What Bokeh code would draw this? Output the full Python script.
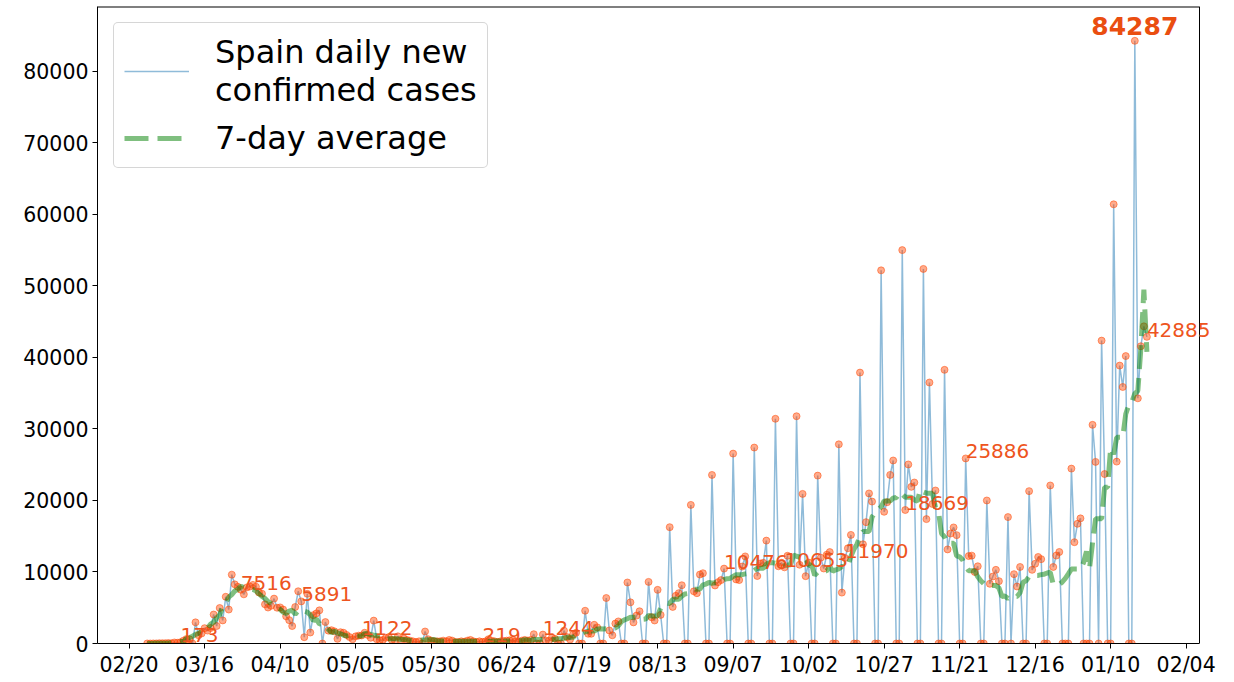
import pandas as pd
from bokeh.plotting import figure
from bokeh.models import (ColumnDataSource, Range1d, FixedTicker, DatetimeTickFormatter,
                          NumeralTickFormatter, LabelSet, Label, Legend, LegendItem)
from bokeh.core.properties import value
from bokeh.embed import file_html
from bokeh.resources import INLINE

# ---------------- DATA ----------------
start_date = "2020-02-26"
feb = [7, 2, 17, 13]
mar = [39, 36, 45, 57, 37, 141, 100, 173, 400, 622, 582, 0, 2955, 1159, 1407, 2144,
       1806, 2162, 4053, 2447, 4964, 3229, 6533, 4749, 9630, 8271, 7933, 7516, 6875,
       7846, 7967]
apr = [8195, 7947, 7134, 6969, 5478, 5029, 5267, 6278, 5002, 5051, 4754, 3804, 3268,
       2442, 5103, 7304, 5891, 887, 6948, 1536, 3968, 4211, 4635, 0, 3000, 1800, 1860,
       1700, 650, 1580]
may = [1500, 1200, 900, 600, 1000, 1100, 1122, 1500, 1200, 800, 3200, 600, 450, 500,
       800, 900, 500, 400, 1000, 500, 700, 500, 400, 300, 200, 300, 0, 1680, 600, 400,
       300]
jun = [300, 300, 400, 300, 500, 400, 200, 200, 300, 250, 400, 500, 300, 200, 300, 219,
       300, 600, 400, 300, 200, 300, 350, 400, 450, 500, 300, 250, 400, 500]
jul = [400, 500, 1300, 0, 0, 1244, 400, 380, 850, 660, 0, 0, 1800, 900, 550, 1250, 1500,
       0, 0, 4581, 1358, 1357, 2615, 2255, 0, 0, 6361, 1829, 1153, 2789, 3092]
aug = [0, 0, 8532, 5760, 2953, 3900, 4507, 0, 0, 8618, 3680, 3220, 7500, 4000, 0, 0,
       16269, 5114, 6671, 7039, 8148, 0, 0, 19382, 7296, 7040, 9650, 9830, 0, 0, 23572]
sep = [8115, 8581, 8866, 10476, 0, 0, 26560, 8964, 8866, 10764, 12183, 0, 0, 27404, 9437,
       11193, 11291, 14389, 0, 0, 31428, 10799, 11289, 10653, 12272, 0, 0, 31785, 11016,
       20922]
oct = [9419, 11325, 0, 0, 23480, 11998, 10491, 12423, 12788, 0, 0, 27856, 7118, 11970,
       13318, 15186, 0, 0, 37889, 13873, 16973, 20986, 19851, 0, 0, 52188, 18418, 19765,
       23580, 25595, 0]
nov = [0, 55019, 18669, 25042, 21908, 22516, 0, 0, 52386, 17395, 36500, 19511, 21400, 0,
       0, 38273, 13159, 15380, 16233, 15156, 0, 0, 25886, 12228, 12289, 10000, 10800, 0,
       0, 20000]
dec = [8350, 9370, 10300, 8720, 0, 0, 17681, 0, 9700, 7970, 10700, 0, 0, 21309, 10300,
       11150, 12100, 11800, 0, 0, 22100, 10700, 12300, 12800, 0, 0, 0, 24462, 14170,
       16740, 17500]
jan = [0, 0, 0, 30579, 25400, 0, 42360, 23700, 0, 0, 61422, 25438, 38869, 35878, 40197,
       0, 0, 84287, 34291, 41576, 44357, 42885]

label_dates = ["2020-03-08", "2020-03-28", "2020-04-17", "2020-05-07", "2020-06-16",
               "2020-07-06", "2020-09-04", "2020-09-24", "2020-10-14", "2020-11-03",
               "2020-11-23", "2021-01-22"]
x_tick_dates = ["2020-02-20", "2020-03-16", "2020-04-10", "2020-05-05", "2020-05-30",
                "2020-06-24", "2020-07-19", "2020-08-13", "2020-09-07", "2020-10-02",
                "2020-10-27", "2020-11-21", "2020-12-16", "2021-01-10", "2021-02-04"]
y_ticks = [0, 10000, 20000, 30000, 40000, 50000, 60000, 70000, 80000]
# ------------------------------------------------------------------------

daily = feb + mar + apr + may + jun + jul + aug + sep + oct + nov + dec + jan
dates = pd.date_range(start_date, periods=len(daily), freq="D")
series = pd.Series(daily, index=dates, dtype=float)
avg = series.rolling(7, center=True, min_periods=1).mean()

src = ColumnDataSource(dict(date=dates, cases=series.values, avg=avg.values))

lab_idx = pd.to_datetime(label_dates)
lab_src = ColumnDataSource(dict(date=lab_idx, val=series.loc[lab_idx].values,
                                txt=[str(int(v)) for v in series.loc[lab_idx].values]))

def ms(ts):
    return pd.Timestamp(ts).value / 1e6

FONT = "DejaVu Sans"
LABEL_COLOR = "#ee5420"

# axes box: visible spines span PLOT_W px; the drawing area extends EXTRA px further right
# so that the last value label is not cut at the right spine (as in the reference)
PLOT_W, EXTRA, PLOT_H = 1102, 27, 637
x_left, x_spine = ms("2020-02-09 13:00"), ms("2021-02-08 10:00")
x_right = x_spine + (x_spine - x_left) * EXTRA / PLOT_W
y_top = 89090

p = figure(frame_width=PLOT_W + EXTRA, frame_height=PLOT_H, x_axis_type="datetime",
           output_backend="svg", toolbar_location=None,
           x_range=Range1d(x_left, x_right), y_range=Range1d(0, y_top),
           min_border_left=97, min_border_right=0, min_border_top=6, min_border_bottom=36)

blue = p.line("date", "cases", source=src, line_color="#1f77b4", line_alpha=0.5, line_width=1.5)
p.scatter("date", "cases", source=src, size=7, fill_color="#ff4500", fill_alpha=0.45,
          line_color="#ff4500", line_alpha=0.5)
green = p.line("date", "avg", source=src, line_color="#008000", line_alpha=0.5,
               line_width=5, line_dash="24 9")

# top and right spines
p.segment(x0=[x_left], y0=[y_top], x1=[x_spine], y1=[y_top], line_color="black", line_width=2)
p.segment(x0=[x_spine], y0=[0], x1=[x_spine], y1=[y_top], line_color="black", line_width=1)

labels = LabelSet(x="date", y="val", text="txt", source=lab_src, text_align="left",
                  text_baseline="alphabetic", text_font=value(FONT), text_font_size="20px",
                  text_color=LABEL_COLOR)
p.add_layout(labels)

imax = int(series.values.argmax())
p.add_layout(Label(x=ms(dates[imax]), y=float(series.values[imax]), text=str(int(series.values[imax])),
                   text_align="center", text_baseline="alphabetic", y_offset=15,
                   text_font=FONT, text_font_size="25px", text_font_style="bold",
                   text_color="#ea4e10"))

legend = Legend(items=[LegendItem(label="Spain daily new\nconfirmed cases", renderers=[blue]),
                       LegendItem(label="7-day average", renderers=[green])],
                location="top_left", margin=16, padding=10, spacing=10,
                glyph_width=65, glyph_height=30, label_standoff=26,
                label_text_font=FONT, label_text_font_size="32px",
                label_text_line_height=1.12, label_text_color="black",
                border_line_color="#cccccc", border_line_alpha=0.8,
                background_fill_alpha=0.8, border_radius=5)
p.add_layout(legend)

p.xaxis.ticker = FixedTicker(ticks=[ms(d) for d in x_tick_dates])
fmt = "%m/%d"
p.xaxis.formatter = DatetimeTickFormatter(days=fmt, months=fmt, years=fmt, hours=fmt,
                                          hourmin=fmt, minutes=fmt)
p.xaxis.bounds = (x_left, x_spine)
p.yaxis.ticker = FixedTicker(ticks=y_ticks)
p.yaxis.formatter = NumeralTickFormatter(format="0")

for ax in (p.xaxis, p.yaxis):
    ax.major_label_text_font = FONT
    ax.major_label_text_font_size = "20.5px"
    ax.major_label_text_color = "black"
    ax.major_tick_out = 5
    ax.major_tick_in = 0
    ax.minor_tick_out = 0
    ax.minor_tick_in = 0
    ax.major_label_standoff = 4
    ax.axis_line_color = "black"
    ax.major_tick_line_color = "black"

p.xgrid.grid_line_color = None
p.ygrid.grid_line_color = None
p.outline_line_color = None
p.background_fill_color = "white"
p.border_fill_color = "white"

open("out.html", "w").write(file_html(p, INLINE))
